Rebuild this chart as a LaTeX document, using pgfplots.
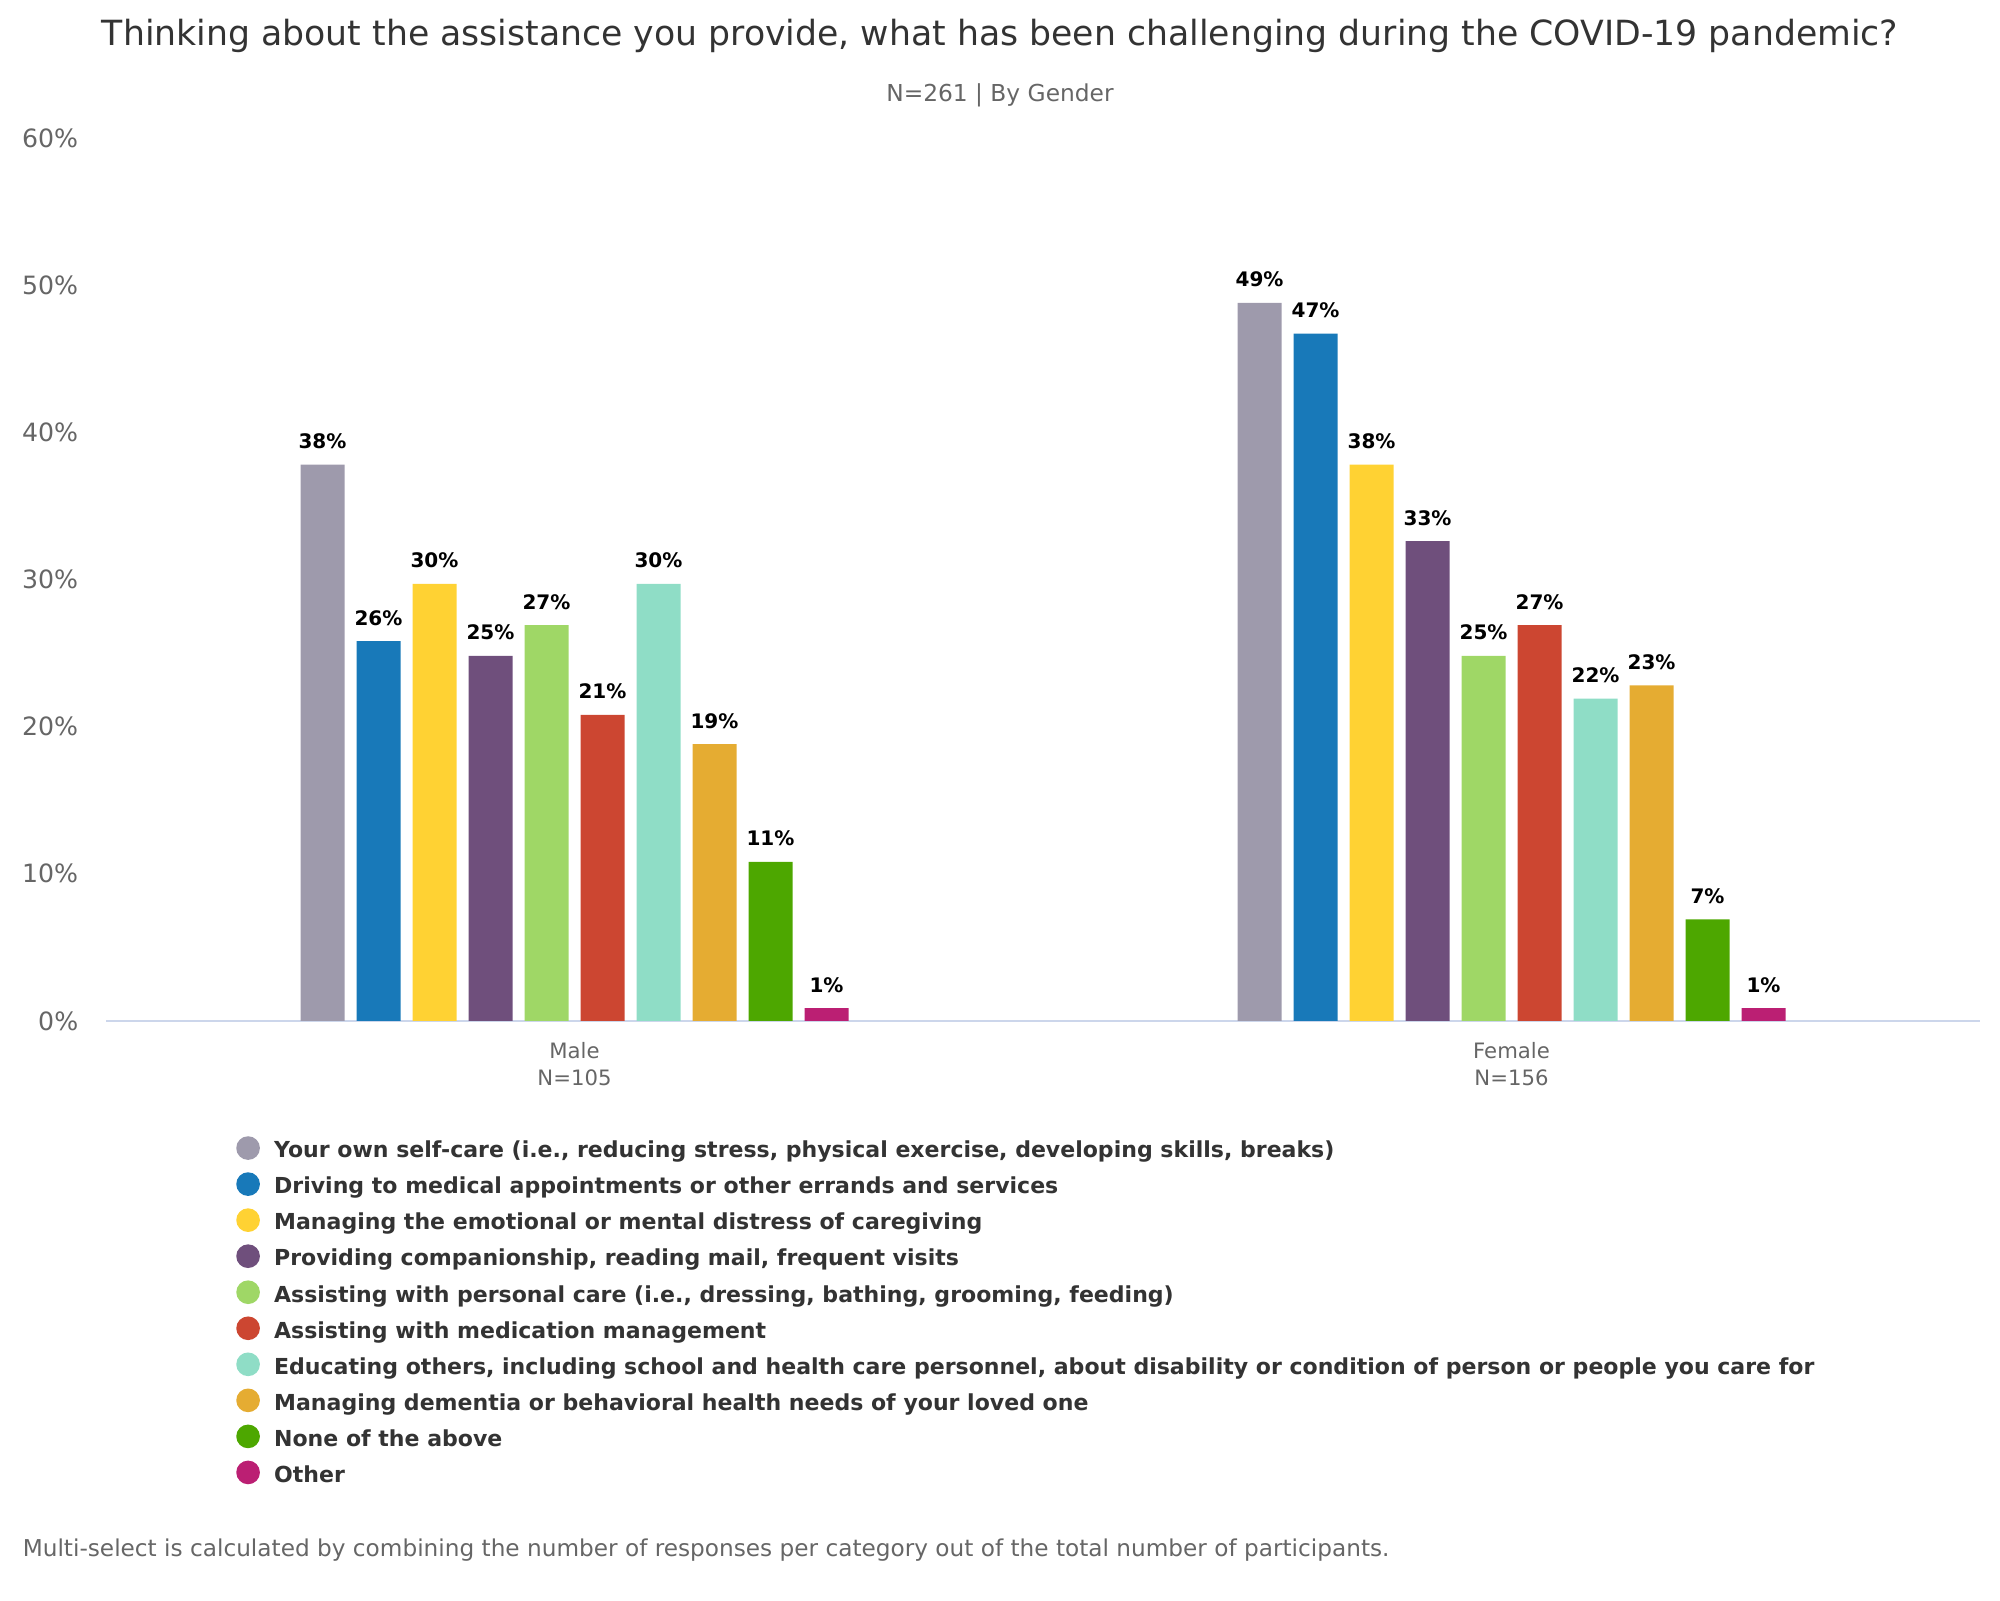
\documentclass[border=0pt]{standalone}
\usepackage{pgfplots}
\pgfplotsset{compat=1.18}
\usepackage{fontspec}
\setmainfont{DejaVu Sans}
\definecolor{c1}{HTML}{9E9AAC}
\definecolor{c2}{HTML}{1879B9}
\definecolor{c3}{HTML}{FFD233}
\definecolor{c4}{HTML}{6F4F7C}
\definecolor{c5}{HTML}{9FD766}
\definecolor{c6}{HTML}{CC4631}
\definecolor{c7}{HTML}{8FDDC6}
\definecolor{c8}{HTML}{E5AC32}
\definecolor{c9}{HTML}{4DA700}
\definecolor{c10}{HTML}{BB1F73}
\definecolor{txt}{HTML}{333333}
\definecolor{sub}{HTML}{666666}
\definecolor{axl}{HTML}{CCD6EB}
\pgfplotsset{dotleg/.style={legend image code/.code={\fill[##1] (0pt,0.4pt) circle (2.96pt);}}}
\begin{document}
\begin{tikzpicture}
\useasboundingbox (0,0) rectangle (500pt,-400pt);
\begin{axis}[
  at={(26.5pt,-255.2pt)}, anchor=south west,
  scale only axis, width=468.5pt, height=220.7pt,
  xmin=-0.5, xmax=1.5, ymin=0, ymax=60,
  enlargelimits=false, clip=false,
  ybar=3pt, bar width=11pt,
  axis x line*=bottom, axis y line*=left,
  y axis line style={draw=none},
  x axis line style={draw=axl, line width=0.5pt},
  major tick length=0pt,
  /pgf/number format/assume math mode=true,
  xtick={0,1},
  xticklabels={{Male\\N=105},{Female\\N=156}},
  xticklabel style={align=center, inner sep=0pt, yshift=-5.3pt, text=sub, font=\fontsize{5.3}{6.75}\selectfont},
  ytick={0,10,...,60},
  yticklabel={\pgfmathprintnumber{\tick}\%},
  yticklabel style={anchor=east, inner sep=0pt, xshift=-6.75pt, text=sub, font=\fontsize{6.3}{7}\selectfont},
  point meta=explicit symbolic,
  nodes near coords={\pgfplotspointmeta\%},
  every node near coord/.append style={font=\bfseries\fontsize{5.0}{6}\selectfont, text=black, yshift=0.4pt},
  legend cell align=left,
  legend style={at={(axis description cs:0.0695,-0.1307)}, anchor=north west, draw=none, fill=none,
    inner sep=0pt, outer sep=0pt, row sep=2.4pt, column sep=3.55pt,
    font=\bfseries\fontsize{5.51}{6.5}\selectfont, text=txt,
    nodes={inner sep=0pt, text height=5.3pt, text depth=1.2pt}},
]
\addplot[fill=c1, draw=none, dotleg] coordinates {(0,37.8) [38] (1,48.8) [49]};
\addplot[fill=c2, draw=none, dotleg] coordinates {(0,25.8) [26] (1,46.7) [47]};
\addplot[fill=c3, draw=none, dotleg] coordinates {(0,29.7) [30] (1,37.8) [38]};
\addplot[fill=c4, draw=none, dotleg] coordinates {(0,24.8) [25] (1,32.6) [33]};
\addplot[fill=c5, draw=none, dotleg] coordinates {(0,26.9) [27] (1,24.8) [25]};
\addplot[fill=c6, draw=none, dotleg] coordinates {(0,20.8) [21] (1,26.9) [27]};
\addplot[fill=c7, draw=none, dotleg] coordinates {(0,29.7) [30] (1,21.9) [22]};
\addplot[fill=c8, draw=none, dotleg] coordinates {(0,18.8) [19] (1,22.8) [23]};
\addplot[fill=c9, draw=none, dotleg] coordinates {(0,10.8) [11] (1,6.9) [7]};
\addplot[fill=c10, draw=none, dotleg] coordinates {(0,0.87) [1] (1,0.87) [1]};
\legend{{Your own self-care (i.e., reducing stress, physical exercise, developing skills, breaks)},
{Driving to medical appointments or other errands and services},
{Managing the emotional or mental distress of caregiving},
{Providing companionship, reading mail, frequent visits},
{Assisting with personal care (i.e., dressing, bathing, grooming, feeding)},
{Assisting with medication management},
{Educating others, including school and health care personnel, about disability or condition of person or people you care for},
{Managing dementia or behavioral health needs of your loved one},
{None of the above},
{Other}}
\end{axis}
\node[text=txt, font=\fontsize{8.67}{10}\selectfont] at (250pt,-9.0pt) {Thinking about the assistance you provide, what has been challenging during the COVID-19 pandemic?};
\node[text=sub, font=\fontsize{5.83}{6.5}\selectfont] at (250pt,-23.9pt) {N=261 | By Gender};
\node[text=sub, font=\fontsize{5.8}{6.5}\selectfont, anchor=west, inner sep=0pt] at (5.5pt,-387.5pt) {Multi-select is calculated by combining the number of responses per category out of the total number of participants.};
\end{tikzpicture}
\end{document}
